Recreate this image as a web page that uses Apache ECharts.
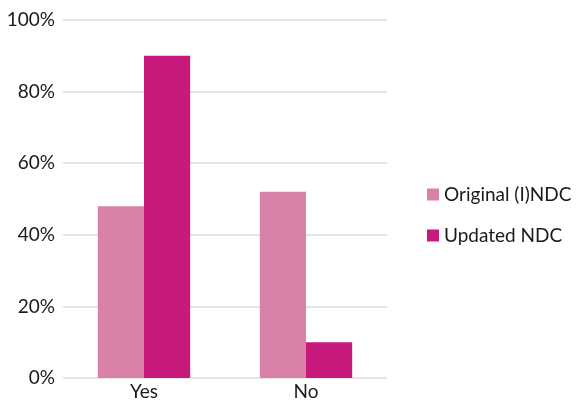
<!DOCTYPE html>
<html><head><meta charset="utf-8">
<script src="https://cdn.jsdelivr.net/npm/echarts@6/dist/echarts.min.js"></script>
<style>html,body{margin:0;padding:0;background:#fff}#c{width:576px;height:403px}</style>
</head><body><div id="c"></div>
<script>
const categories = ['Yes', 'No'];
const seriesNames = ['Original (I)NDC', 'Updated NDC'];
const originalValues = [48, 52];
const updatedValues = [90, 10];
const yTicks = [0, 20, 40, 60, 80, 100];

const chart = echarts.init(document.getElementById('c'));
const font = 'Lato, "Noto Sans", sans-serif';
chart.setOption({
  animation: false,
  grid: { left: 63, right: 189, top: 20, bottom: 25, containLabel: false },
  legend: {
    orient: 'vertical', left: 422, top: 180,
    itemWidth: 12, itemHeight: 12, itemGap: 22, icon: 'rect',
    textStyle: { fontSize: 19, color: '#1a1a1a', fontFamily: font },
    data: seriesNames
  },
  xAxis: {
    type: 'category', data: categories,
    axisLine: { show: false }, axisTick: { show: false },
    axisLabel: { fontSize: 19, color: '#1a1a1a', fontFamily: font, margin: 4 }
  },
  yAxis: {
    type: 'value', min: 0, max: 100, interval: 20,
    axisLabel: { formatter: v => yTicks.includes(v) ? v + '%' : '', fontSize: 19, color: '#1a1a1a', fontFamily: font, margin: 8 },
    splitLine: { lineStyle: { color: '#dddddd', width: 1.5 } },
    axisLine: { show: false }, axisTick: { show: false }
  },
  series: [
    { name: seriesNames[0], type: 'bar', data: originalValues, barGap: '0%', barCategoryGap: '43%', itemStyle: { color: '#D981A8' } },
    { name: seriesNames[1], type: 'bar', data: updatedValues, barGap: '0%', barCategoryGap: '43%', itemStyle: { color: '#C8197D' } }
  ]
});
</script></body></html>
